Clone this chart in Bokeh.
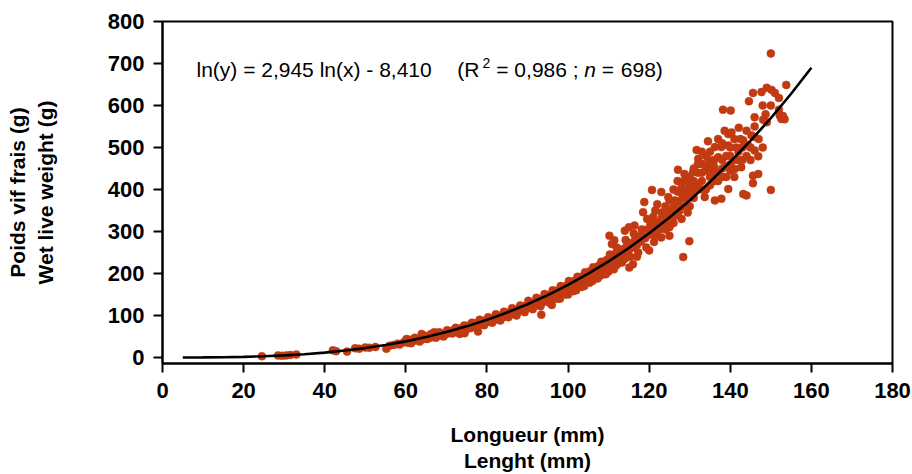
from bokeh.plotting import figure
from bokeh.models import Label, FixedTicker, Range1d
from bokeh.embed import file_html
from bokeh.resources import INLINE

# ---- data ----
# fitted curve: ln(y) = 2,945 ln(x) - 8,410
curve_x = [5, 10, 15, 20, 25, 30, 35, 40, 45, 50, 55, 60, 65, 70, 75, 80, 85, 90, 95, 100,
           105, 110, 115, 120, 125, 130, 135, 140, 145, 150, 155, 160]
curve_y = [0.03, 0.20, 0.65, 1.5, 2.9, 5.0, 7.9, 11.6, 16.5, 22.4, 29.7, 38.4, 48.6, 60.5, 74.1,
           89.6, 107.1, 126.7, 148.6, 172.8, 199.5, 228.8, 260.8, 295.7, 333.4, 374.0, 418.2,
           466.0, 516.2, 570.0, 628.0, 690.0]

# observed individuals (length mm, weight g)
pts_x = [
    # 24-59 mm
    24.5, 28.5, 29.5, 30.5, 31.5, 33.0, 42.0, 42.8, 45.5, 47.5, 48.5, 50.0, 51.0, 52.5, 55.2, 56.0, 57.0, 58.0, 58.5,
    # 59-71 mm
    59.5, 60.0, 60.5, 61.0, 61.5, 62.0, 62.5, 63.0, 63.5, 64.0, 64.5, 65.0, 65.5, 66.0, 66.5, 67.0, 67.5, 68.0,
    68.5, 69.0, 69.5, 70.0, 70.5, 71.0, 63.9, 67.0,
    # 71-81 mm
    71.5, 72.0, 72.5, 73.0, 73.3, 73.8, 74.2, 74.5, 75.0, 75.5, 76.0, 76.5, 77.0, 77.5, 77.8, 78.0, 78.5, 79.0,
    79.5, 80.0, 80.5, 81.0,
    # 81-91 mm
    81.5, 82.0, 82.5, 83.0, 83.5, 84.0, 84.5, 85.0, 85.5, 86.0, 86.5, 87.0, 87.5, 88.0, 88.5, 89.0, 89.5, 90.0,
    90.5, 91.0,
    # 91-101 mm
    91.5, 92.0, 92.5, 93.0, 93.4, 93.5, 94.0, 94.5, 95.0, 95.5, 96.0, 96.5, 97.0, 97.5, 98.0, 98.5, 99.0, 99.5,
    100.0, 100.5, 96.0, 98.0, 100.0,
    # 101-110 mm
    101.0, 101.5, 102.0, 102.5, 103.0, 103.5, 104.0, 104.5, 105.0, 105.5, 106.0, 106.5, 107.0, 107.5, 108.0,
    108.5, 109.0, 109.5, 110.0, 102.0, 104.0, 106.0, 108.0, 110.0, 110.2, 111.4, 110.8, 112.0, 113.0,
    # 110-120 mm
    110.5, 111.0, 111.5, 112.0, 112.5, 113.0, 113.5, 114.0, 114.5, 115.0, 115.5, 116.0, 116.5, 117.0, 117.5,
    118.0, 118.5, 119.0, 119.5, 120.0, 114.0, 115.0, 116.4, 115.1, 116.0, 117.0, 118.8, 118.5, 119.5, 120.0,
    112.0, 114.0,
    # 120-130 mm
    120.5, 121.0, 121.5, 122.0, 122.5, 123.0, 123.0, 123.5, 124.0, 124.5, 125.0, 125.0, 125.5, 126.0, 126.5,
    127.0, 127.5, 128.0, 128.4, 128.5, 129.0, 129.5, 129.9, 130.0, 120.7, 123.0, 124.7, 126.3, 128.0, 129.6,
    127.1, 128.7, 121.5, 122.0, 125.0, 126.0, 127.0, 128.5, 130.0,
    # 130-140 mm
    130.8, 131.3, 131.7, 132.1, 133.0, 133.7, 134.5, 135.0, 136.2, 136.2, 137.0, 137.8, 137.8, 138.6, 139.5,
    139.5, 139.5, 140.3, 138.2, 140.1, 130.5, 131.0, 132.0, 133.0, 134.0, 135.0, 136.0, 137.0, 138.0, 139.0,
    140.0, 131.0, 133.0, 135.0, 136.0, 138.0, 140.0, 134.0, 136.0,
    # 140-155 mm
    141.1, 142.7, 142.1, 143.2, 143.2, 144.0, 144.4, 144.6, 145.2, 145.6, 145.6, 145.6, 146.0, 146.0, 146.0,
    146.9, 146.9, 147.7, 148.1, 148.7, 149.0, 150.0, 150.0, 150.2, 152.0, 152.2, 152.6, 153.8, 153.4, 141.0,
    142.0, 143.0, 144.0, 141.5, 142.5,
    # second layer of the band, 60-121 mm
    60.2, 61.3, 62.2, 63.4, 64.6, 65.3, 66.2, 67.4, 68.2, 69.3, 70.2, 71.4, 72.3, 73.6, 74.4, 75.4, 76.3, 77.3,
    78.2, 79.3, 80.3, 81.3, 82.2, 83.3, 84.2, 85.3, 86.2, 87.3, 88.2, 89.3, 90.2, 91.3, 92.2, 93.2, 94.2, 95.3,
    96.2, 97.3, 98.2, 99.3, 100.2, 101.3, 102.3, 103.3, 104.2, 105.3, 106.2, 107.3, 108.2, 109.3, 110.3, 111.3,
    112.3, 113.3, 114.2, 115.3, 116.2, 117.3, 118.2, 119.3, 120.3, 121.2,
    # denser cloud, 121-153 mm
    121.0, 122.0, 123.0, 124.0, 124.0, 125.0, 126.0, 126.0, 127.0, 127.0, 128.0, 128.0, 129.0, 129.0, 130.0,
    130.0, 131.0, 131.0, 132.0, 132.0, 133.0, 133.0, 134.0, 134.0, 135.0, 135.0, 136.0, 137.0, 137.0, 138.0,
    138.0, 139.0, 139.0, 140.0, 140.0, 141.0, 141.0, 142.0, 143.0, 144.0, 145.0, 145.0, 146.0, 147.0, 148.0,
    148.0, 149.0, 150.0, 151.0, 152.0, 153.0,
]
pts_y = [
    3, 5, 4, 5, 6, 7, 17, 15, 14, 22, 21, 24, 23, 25, 21, 28, 30, 33, 31,
    36, 40, 35, 42, 38, 40, 44, 41, 46, 43, 48, 45, 50, 47, 53, 49, 55, 51,
    57, 53, 58, 56, 62, 59, 56, 60,
    64, 60, 67, 63, 56, 70, 66, 58, 72, 76, 70, 79, 74, 82, 62, 78, 85, 80,
    88, 84, 91, 87,
    94, 90, 97, 93, 100, 96, 104, 100, 108, 103, 111, 106, 115, 110, 119, 113, 123, 118,
    127, 121,
    131, 125, 135, 129, 102, 139, 133, 144, 137, 149, 142, 154, 147, 160, 152, 165, 157, 170,
    162, 176, 125, 140, 150,
    168, 182, 174, 188, 180, 193, 185, 199, 190, 206, 196, 212, 203, 218, 208,
    225, 214, 232, 220, 160, 170, 182, 195, 205, 290, 279, 270, 262, 255,
    238, 228, 246, 236, 252, 243, 258, 250, 266, 256, 272, 262, 280, 268, 288,
    276, 296, 284, 305, 292, 302, 310, 314, 214, 222, 240, 370, 346, 330, 255,
    220, 235,
    300, 312, 290, 320, 305, 330, 286, 315, 340, 322, 290, 348, 330, 360, 338,
    372, 350, 330, 239, 380, 360, 345, 277, 388, 399, 394, 382, 374, 390, 398,
    447, 437, 350, 365, 310, 400, 420, 420, 430,
    441, 405, 494, 473, 461, 382, 515, 469, 501, 374, 477, 501, 378, 540, 532,
    505, 401, 536, 590, 588, 400, 420, 440, 420, 445, 430, 455, 440, 470, 455,
    480, 380, 400, 410, 420, 430, 445, 480, 470,
    449, 453, 547, 517, 389, 386, 505, 610, 529, 630, 433, 415, 572, 525, 493,
    479, 437, 632, 566, 579, 642, 724, 399, 637, 618, 576, 568, 649, 567, 470,
    490, 470, 480, 500, 520,
    44, 34, 47, 38, 52, 44, 56, 47, 60, 50, 65, 57, 71, 61, 76, 69, 83, 72,
    90, 77, 96, 83, 103, 88, 109, 96, 117, 100, 124, 108, 135, 115, 142, 122, 151, 131,
    160, 140, 170, 150, 182, 158, 192, 168, 203, 178, 215, 188, 228, 198, 245, 210,
    258, 226, 280, 240, 295, 250, 305, 262, 318, 275,
    335, 300, 345, 305, 360, 375, 320, 350, 395, 340, 360, 405, 380, 420, 360,
    410, 450, 395, 410, 460, 440, 490, 400, 460, 450, 490, 440, 420, 520, 450,
    510, 480, 430, 500, 460, 430, 520, 470, 500, 540, 470, 500, 550, 520, 500,
    600, 560, 600, 630, 590, 575,
]

x_ticks = [0, 20, 40, 60, 80, 100, 120, 140, 160, 180]
y_ticks = [0, 100, 200, 300, 400, 500, 600, 700, 800]

FONT = "Liberation Sans"
DOT = "#C23A12"

p = figure(width=912, height=474, output_backend="svg", toolbar_location=None,
           x_range=Range1d(0, 180), y_range=Range1d(-14.3, 800),
           min_border_left=162, min_border_right=20, min_border_top=21, min_border_bottom=111)

p.background_fill_color = "white"
p.border_fill_color = "white"
p.grid.visible = False
p.outline_line_color = "black"
p.outline_line_width = 2
p.outline_line_alpha = 1

p.scatter(pts_x, pts_y, size=8, fill_color=DOT, line_color=DOT, line_width=0.5)
p.line(curve_x, curve_y, line_color="black", line_width=2.6)

for ax in (p.xaxis[0], p.yaxis[0]):
    ax.axis_line_color = "black"
    ax.axis_line_width = 2
    ax.major_tick_line_color = "black"
    ax.major_tick_line_width = 2
    ax.major_tick_out = 9
    ax.major_tick_in = 0
    ax.minor_tick_line_color = None
    ax.major_label_text_font = FONT
    ax.major_label_text_font_style = "bold"
    ax.major_label_text_font_size = "22px"
    ax.major_label_text_color = "black"
    ax.axis_label_text_font = FONT
    ax.axis_label_text_font_style = "bold"
    ax.axis_label_text_font_size = "21px"
    ax.axis_label_text_color = "black"

p.xaxis.ticker = FixedTicker(ticks=x_ticks)
p.yaxis.ticker = FixedTicker(ticks=y_ticks)
p.xaxis.major_label_standoff = 10
p.yaxis.major_label_standoff = 9
p.yaxis.axis_label = "Poids vif frais (g)\nWet live weight (g)"
p.yaxis.axis_label_standoff = 48
p.xaxis.axis_label = "Longueur (mm)\nLenght (mm)"
p.xaxis.axis_label_standoff = 22
p.xaxis.axis_label_text_line_height = 1.15

# equation text, built from pieces
eq_size = "21px"
pieces = [
    (8.38, 685.7, "ln(y) = 2,945 ln(x) - 8,410", eq_size, "normal"),
    (72.7, 685.7, "(R", eq_size, "normal"),
    (78.9, 700.0, "2", "14px", "normal"),
    (82.3, 685.7, "= 0,986 ;", eq_size, "normal"),
    (104.0, 685.7, "n", eq_size, "italic"),
    (108.3, 685.7, "=", eq_size, "normal"),
    (113.0, 685.7, "698)", eq_size, "normal"),
]
for x, y, t, fs, st in pieces:
    p.add_layout(Label(x=x, y=y, text=t, text_font=FONT, text_font_size=fs,
                       text_font_style=st, text_color="black", text_baseline="alphabetic",
                       text_align="left"))

open("out.html", "w").write(file_html(p, INLINE))
